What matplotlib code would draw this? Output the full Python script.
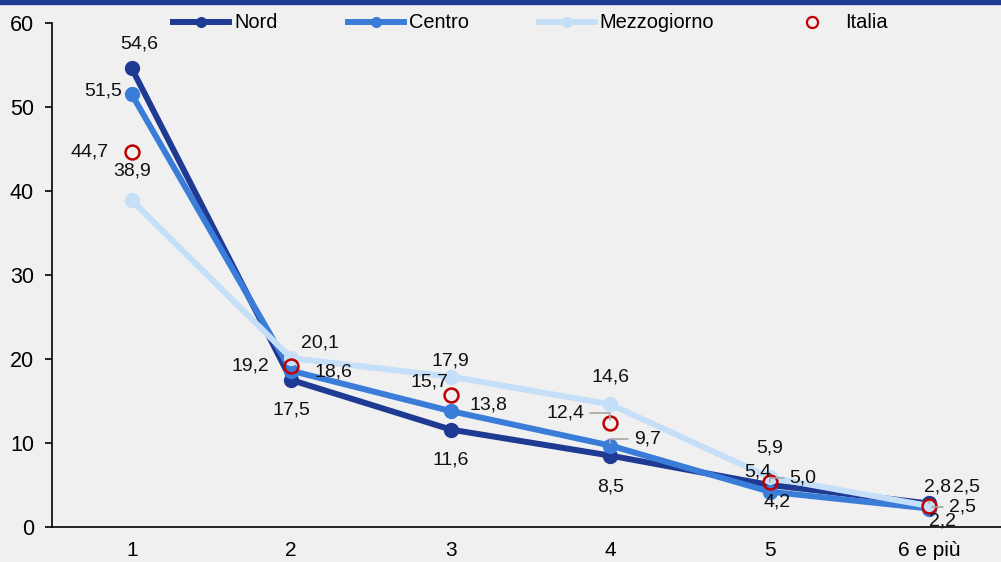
import numpy as np
import matplotlib.pyplot as plt
from matplotlib.lines import Line2D

plt.rcParams['font.family'] = ['Liberation Sans', 'DejaVu Sans']

categories = ['1', '2', '3', '4', '5', '6 e più']
nord = [54.6, 17.5, 11.6, 8.5, 5.0, 2.8]
centro = [51.5, 18.6, 13.8, 9.7, 4.2, 2.2]
mezzogiorno = [38.9, 20.1, 17.9, 14.6, 5.9, 2.5]
italia = [44.7, 19.2, 15.7, 12.4, 5.4, 2.5]

# label offsets in pixels (dx, dy), and whether a leader line is drawn
off_nord = [(7, 24), (0, -30), (0, -30), (0, -31), (33, 7), (8, 16)]
off_centro = [(-29, 3), (42, -1), (38, 6), (37, 7), (7, -10), (13, -12)]
off_mezz = [(0, 29), (29, 15), (0, 16), (0, 27), (0, 29), (37, 19)]
off_italia = [(-42, 0), (-41, 0), (-21, 13), (-45, 10), (-12, 10), (33, -1)]
lead_nord = [False, False, False, False, True, True]
lead_centro = [False, False, False, True, False, False]
lead_mezz = [False] * 6
lead_italia = [False, False, False, True, False, True]

c_nord = '#1f3a93'
c_centro = '#3a7dd8'
c_mezz = '#c5dff8'
c_ita = '#c00000'
bg = '#f0f0f0'

fig = plt.figure(figsize=(10.01, 5.62), dpi=100)
fig.patch.set_facecolor(bg)
ax = fig.add_axes([52 / 1001, 1 - 527 / 562, 1 - 52 / 1001, 504 / 562])
ax.set_facecolor(bg)

x = np.arange(len(categories))
ax.plot(x, nord, color=c_nord, lw=4.3, marker='o', ms=10, zorder=3)
ax.plot(x, centro, color=c_centro, lw=4.3, marker='o', ms=10, zorder=4)
ax.plot(x, mezzogiorno, color=c_mezz, lw=4.3, marker='o', ms=10, zorder=5)
ax.plot(x, italia, ls='none', marker='o', ms=10, mfc='none', mec=c_ita, mew=1.8, zorder=6)

def fmt(v):
    return f'{v:.1f}'.replace('.', ',')

for vals, offs, leads in [(nord, off_nord, lead_nord), (centro, off_centro, lead_centro),
                          (mezzogiorno, off_mezz, lead_mezz), (italia, off_italia, lead_italia)]:
    for i, v in enumerate(vals):
        dx, dy = offs[i]
        kw = {}
        if leads[i]:
            kw['arrowprops'] = dict(arrowstyle='-', color='#a6a6a6', lw=1.2,
                                    shrinkA=2, shrinkB=2, connectionstyle='angle,angleA=0,angleB=90')
        ax.annotate(fmt(v), (x[i], v), xytext=(dx, dy), textcoords='offset pixels',
                    ha='center', va='center', fontsize=14, color='#111111', zorder=7, **kw)

ax.set_xlim(-0.5, 5.45)
ax.set_ylim(0, 60)
ax.set_yticks(range(0, 61, 10))
ax.set_xticks(x)
ax.set_xticklabels(categories)
ax.tick_params(axis='y', labelsize=15.5, length=5, width=1.2, direction='out', pad=8)
ax.tick_params(axis='x', labelsize=15, length=0, pad=10)
for s in ['top', 'right']:
    ax.spines[s].set_visible(False)
for s in ['left', 'bottom']:
    ax.spines[s].set_linewidth(1.2)
    ax.spines[s].set_color('black')

handles = [
    Line2D([], [], color=c_nord, lw=4.3, marker='o', ms=7),
    Line2D([], [], color=c_centro, lw=4.3, marker='o', ms=7),
    Line2D([], [], color=c_mezz, lw=4.3, marker='o', ms=7),
    Line2D([], [], ls='none', marker='o', ms=8, mfc='none', mec=c_ita, mew=1.6),
]
fig.legend(handles, ['Nord', 'Centro', 'Mezzogiorno', 'Italia'], loc='center left',
           bbox_to_anchor=(155 / 1001, 1 - 23 / 562), ncol=4, frameon=False, fontsize=14.4,
           handlelength=2.8, handletextpad=0.26, columnspacing=3.5)

# top band
fig.add_artist(plt.Rectangle((0, 1 - 4 / 562), 1, 4 / 562, transform=fig.transFigure,
                             color=c_nord, zorder=10))

fig.savefig('out.png', dpi=100, facecolor=bg)
